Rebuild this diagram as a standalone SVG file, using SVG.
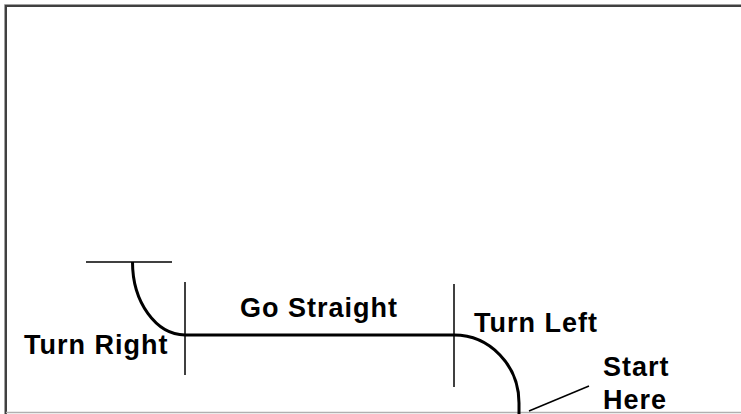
<svg xmlns="http://www.w3.org/2000/svg" width="741" height="414" viewBox="0 0 741 414">
<style>
.lbl{font-family:"Liberation Sans",Arial,sans-serif;font-weight:bold;font-size:27px;letter-spacing:1px;fill:#000}
.thick{fill:none;stroke:#000;stroke-width:3}
.thin{fill:none;stroke:#000;stroke-width:1.5}
</style>
<rect width="741" height="414" fill="#fff"/>
<g id="frame">
<path d="M4.5 414 V4.5 H741" fill="none" stroke="#a0a0a0" stroke-width="1"/>
<path d="M6 414 V6 H741" fill="none" stroke="#404040" stroke-width="2"/>
<line x1="6" y1="412.5" x2="741" y2="412.5" stroke="#b0b0b0" stroke-width="1.5"/>
</g>
<g id="connectors">
<line class="thin" x1="86" y1="262" x2="172" y2="262"/>
<path class="thick" d="M132.5 262 A53 73 0 0 0 185 335"/>
<line class="thin" x1="185" y1="282" x2="185" y2="375"/>
<line class="thick" x1="185" y1="335" x2="454" y2="335"/>
<line class="thin" x1="454" y1="284" x2="454" y2="387"/>
<path class="thick" d="M454 335 A65 68 0 0 1 519 403 V414"/>
<line class="thin" x1="529" y1="411" x2="589" y2="386"/>
</g>
<g id="turn-right"><text class="lbl" x="24" y="354">Turn Right</text></g>
<g id="go-straight"><text class="lbl" x="240" y="317">Go Straight</text></g>
<g id="turn-left"><text class="lbl" x="474" y="332">Turn Left</text></g>
<g id="start-here"><text class="lbl" x="603" y="376">Start</text><text class="lbl" x="603" y="409">Here</text></g>
</svg>
